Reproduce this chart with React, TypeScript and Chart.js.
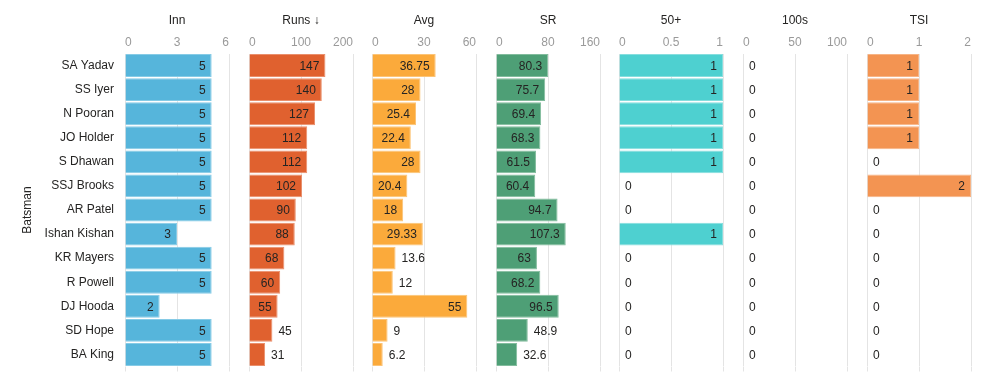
import React, { useEffect, useRef } from "react";
import { Chart, registerables } from "chart.js";

Chart.register(...registerables);

const batsmen = ["SA Yadav", "SS Iyer", "N Pooran", "JO Holder", "S Dhawan", "SSJ Brooks", "AR Patel", "Ishan Kishan", "KR Mayers", "R Powell", "DJ Hooda", "SD Hope", "BA King"];
const inn = [5, 5, 5, 5, 5, 5, 5, 3, 5, 5, 2, 5, 5];
const runs = [147, 140, 127, 112, 112, 102, 90, 88, 68, 60, 55, 45, 31];
const avg = [36.75, 28, 25.4, 22.4, 28, 20.4, 18, 29.33, 13.6, 12, 55, 9, 6.2];
const sr = [80.3, 75.7, 69.4, 68.3, 61.5, 60.4, 94.7, 107.3, 63, 68.2, 96.5, 48.9, 32.6];
const fifties = [1, 1, 1, 1, 1, 0, 0, 1, 0, 0, 0, 0, 0];
const hundreds = [0, 0, 0, 0, 0, 0, 0, 0, 0, 0, 0, 0, 0];
const tsi = [1, 1, 1, 1, 0, 2, 0, 0, 0, 0, 0, 0, 0];

const panelTitles = ["Inn", "Runs \u2193", "Avg", "SR", "50+", "100s", "TSI"];
const panelMax = [6, 200, 60, 160, 1, 100, 2];
const panelData = [inn, runs, avg, sr, fifties, hundreds, tsi];
const panelColors = ["#56B5DB", "#E0612F", "#FBAA3B", "#4E9F76", "#4ED0D0", "#8AB4D8", "#F39452"];
const panelBorders = ["#86CBE6", "#EA8F6C", "#FCC477", "#82BC9D", "#86DEDE", "#B0CCE6", "#F7B485"];
const panelLeft = [125, 249, 372, 496, 619, 743, 867];

const FONT = '"Liberation Sans", Arial, sans-serif';
const PLOT_W = 104;
const PAD = 10;

const valueLabels = {
  id: "valueLabels",
  afterDatasetsDraw(chart: any) {
    const ctx = chart.ctx;
    const meta = chart.getDatasetMeta(0);
    const ds = chart.data.datasets[0];
    ctx.save();
    ctx.font = "12px " + FONT;
    ctx.textBaseline = "middle";
    ctx.fillStyle = "#252423";
    meta.data.forEach((bar: any, i: number) => {
      const v = ds.data[i];
      const text = String(v);
      const w = ctx.measureText(text).width;
      const { x, y, base } = bar.getProps(["x", "y", "base"], true);
      const bw = x - base;
      if (bw >= w + 11.5) {
        ctx.textAlign = "right";
        ctx.fillText(text, x - 6, y + 1);
      } else {
        ctx.textAlign = "left";
        ctx.fillText(text, x + 6, y + 1);
      }
    });
    ctx.restore();
  },
};

function Panel({ k }: { k: number }) {
  const ref = useRef<HTMLCanvasElement | null>(null);
  const first = k === 0;
  const canvasLeft = first ? 0 : panelLeft[k] - PAD;
  const width = first ? panelLeft[0] + PLOT_W + PAD : PLOT_W + 2 * PAD;
  const height = 390;

  useEffect(() => {
    if (!ref.current) return;
    const max = panelMax[k];
    const gridColor = "#E4E4E4";
    const chart = new Chart(ref.current, {
      type: "bar",
      data: {
        labels: batsmen,
        datasets: [
          {
            data: panelData[k],
            backgroundColor: panelColors[k],
            borderColor: panelBorders[k],
            borderWidth: 1,
            barPercentage: 0.95,
            categoryPercentage: 1,
          },
        ],
      },
      options: {
        indexAxis: "y",
        responsive: false,
        animation: false,
        devicePixelRatio: 1,
        layout: { padding: { left: first ? 0 : PAD, right: PAD, top: 8.7, bottom: 18.5 } },
        plugins: { legend: { display: false }, tooltip: { enabled: false } },
        scales: {
          x: {
            position: "top",
            min: 0,
            max: max,
            ticks: {
              stepSize: max / 2,
              align: "inner",
              color: "#9A9A9A",
              font: { family: FONT, size: 12 },
              padding: 4,
              maxRotation: 0,
              callback: (v: any) => String(v),
            },
            grid: { color: gridColor, drawTicks: false },
            border: { display: false },
            title: {
              display: true,
              text: panelTitles[k],
              color: "#252423",
              font: { family: FONT, size: 12 },
              padding: { top: 5, bottom: 3 },
            },
          },
          x2: {
            axis: "x",
            position: "bottom",
            min: 0,
            max: max,
            ticks: { stepSize: max / 2, display: false },
            grid: { color: gridColor, drawOnChartArea: false, drawTicks: true, tickLength: 5 },
            border: { display: false },
          },
          y: {
            display: first,
            grid: { display: false, drawTicks: false },
            border: { display: false },
            ticks: { color: "#252423", font: { family: FONT, size: 12 }, padding: 11 },
            title: {
              display: first,
              text: "Batsman",
              color: "#252423",
              font: { family: FONT, size: 12 },
              padding: { top: 20, bottom: 0 },
            },
            afterFit: (s: any) => {
              if (first) s.width = panelLeft[0];
            },
          },
        },
      },
      plugins: [valueLabels],
    } as any);
    return () => chart.destroy();
  }, [k]);

  return (
    <canvas
      ref={ref}
      width={width}
      height={height}
      style={{ position: "fixed", left: canvasLeft, top: 0, width, height, display: "block" }}
    />
  );
}

export default function App() {
  return (
    <div style={{ position: "relative", width: 995, height: 390, background: "#fff" }}>
      {panelTitles.map((_, k) => (
        <Panel key={k} k={k} />
      ))}
    </div>
  );
}
